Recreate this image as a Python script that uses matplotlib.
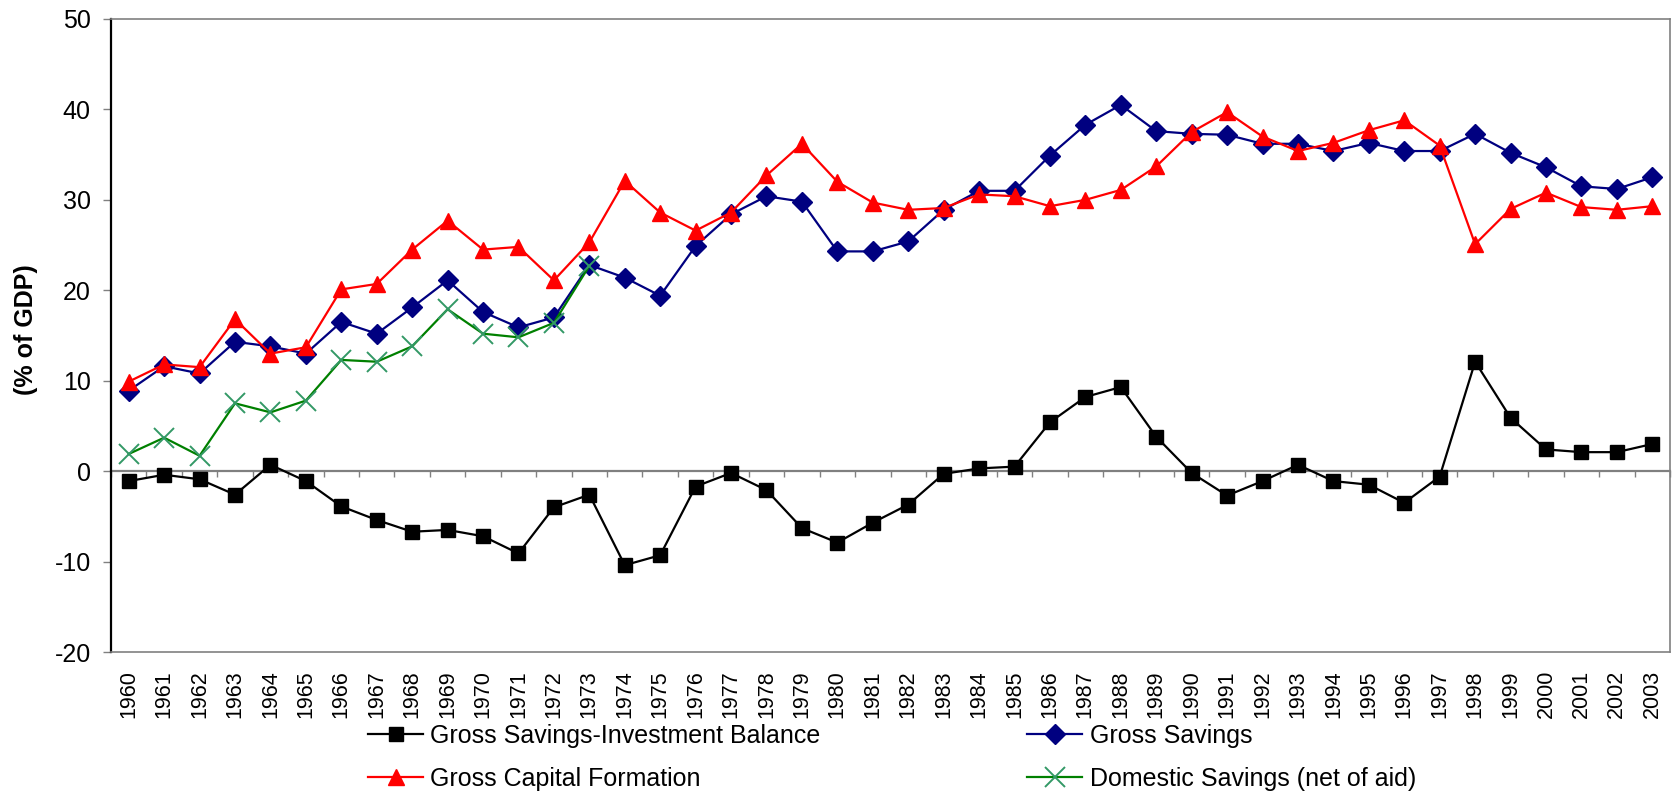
import numpy as np
import matplotlib
matplotlib.use("Agg")
from matplotlib import pyplot as plt

plt.rcParams['font.family'] = ['Liberation Sans', 'DejaVu Sans']
plt.rcParams['axes.unicode_minus'] = False

years = [str(y) for y in range(1960, 2004)]

balance = [-1.1, -0.4, -0.9, -2.6, 0.7, -1.1, -3.9, -5.4, -6.7, -6.5,
           -7.2, -9.1, -4.0, -2.6, -10.4, -9.3, -1.7, -0.2, -2.1, -6.3,
           -7.9, -5.7, -3.7, -0.3, 0.3, 0.5, 5.4, 8.2, 9.3, 3.8,
           -0.2, -2.7, -1.1, 0.7, -1.1, -1.5, -3.5, -0.6, 12.1, 5.9,
           2.4, 2.1, 2.1, 3.0]
gross_savings = [8.9, 11.6, 10.8, 14.3, 13.8, 13.0, 16.5, 15.2, 18.1, 21.1,
                 17.6, 15.9, 17.0, 22.8, 21.4, 19.4, 24.9, 28.4, 30.4, 29.8,
                 24.3, 24.3, 25.4, 28.9, 31.0, 31.0, 34.9, 38.3, 40.5, 37.6,
                 37.3, 37.2, 36.2, 36.2, 35.4, 36.3, 35.4, 35.4, 37.3, 35.2,
                 33.6, 31.5, 31.2, 32.5]
capital_formation = [9.9, 11.8, 11.5, 16.8, 13.0, 13.7, 20.1, 20.7, 24.5, 27.7,
                     24.5, 24.8, 21.1, 25.3, 32.1, 28.6, 26.6, 28.6, 32.7, 36.2,
                     32.0, 29.7, 28.9, 29.1, 30.6, 30.4, 29.3, 30.0, 31.1, 33.7,
                     37.5, 39.7, 37.0, 35.4, 36.3, 37.7, 38.8, 36.0, 25.1, 29.0,
                     30.8, 29.2, 28.9, 29.3]
domestic_savings = [1.9, 3.7, 1.7, 7.5, 6.5, 7.8, 12.3, 12.1, 13.8, 17.9,
                    15.2, 14.8, 16.4, 22.7]

W, H = 1673, 796
fig = plt.figure(figsize=(W / 100, H / 100), dpi=100)
ax = fig.add_axes([111 / W, 1 - 652 / H, (1670 - 111) / W, (652 - 19) / H])

x = np.arange(len(years))
l1, = ax.plot(x, balance, color='black', lw=1.6, marker='s', ms=10.5,
              label='Gross Savings-Investment Balance')
l2, = ax.plot(x, gross_savings, color='#000080', lw=1.6, marker='D', ms=10,
              label='Gross Savings')
l3, = ax.plot(x, capital_formation, color='#FF0000', lw=1.6, marker='^', ms=11,
              label='Gross Capital Formation')
l4, = ax.plot(x[:len(domestic_savings)], domestic_savings, color='#008000', lw=1.6,
              marker='x', ms=14, mew=1.4, mec='#339966',
              label='Domestic Savings (net of aid)')

ymin, ymax = -20, 50
ax.set_xlim(-0.5, len(years) - 0.5)
ax.set_ylim(ymin, ymax)
ax.set_yticks(range(-20, 51, 10))
ax.set_xticks(x)
ax.set_xticklabels(years, rotation=90, fontsize=15.5)
ax.tick_params(axis='x', length=0, pad=13)
ax.tick_params(axis='y', length=5.5, width=1, color='#808080', labelsize=18, pad=9)

for side in ['top', 'right', 'bottom']:
    ax.spines[side].set_color('#808080')
    ax.spines[side].set_linewidth(1.2)
ax.spines['left'].set_color('black')
ax.spines['left'].set_linewidth(1.6)

# category axis crossing at zero
sec = ax.secondary_xaxis((0 - ymin) / (ymax - ymin))
sec.set_xticks(np.arange(-0.5, len(years), 1))
sec.xaxis.set_ticks_position('bottom')
sec.tick_params(axis='x', direction='out', length=4, width=1, color='#808080',
                labelbottom=False, labeltop=False)
sec.spines['bottom'].set_color('#808080')
sec.spines['bottom'].set_linewidth(1.6)

ax.set_ylabel('(% of GDP)', fontsize=18, fontweight='bold')
ax.yaxis.set_label_coords(-0.047, 0.51)

fig.legend([l1, l3, l2, l4], [l1.get_label(), l3.get_label(), l2.get_label(), l4.get_label()],
           ncol=2, loc='upper left', bbox_to_anchor=(368 / W, 1 - 724 / H),
           frameon=False, fontsize=18, borderpad=0, borderaxespad=0,
           handlelength=2.2, handletextpad=0.3, columnspacing=8.25, labelspacing=0.75)

plt.savefig('out.png', dpi=100)
